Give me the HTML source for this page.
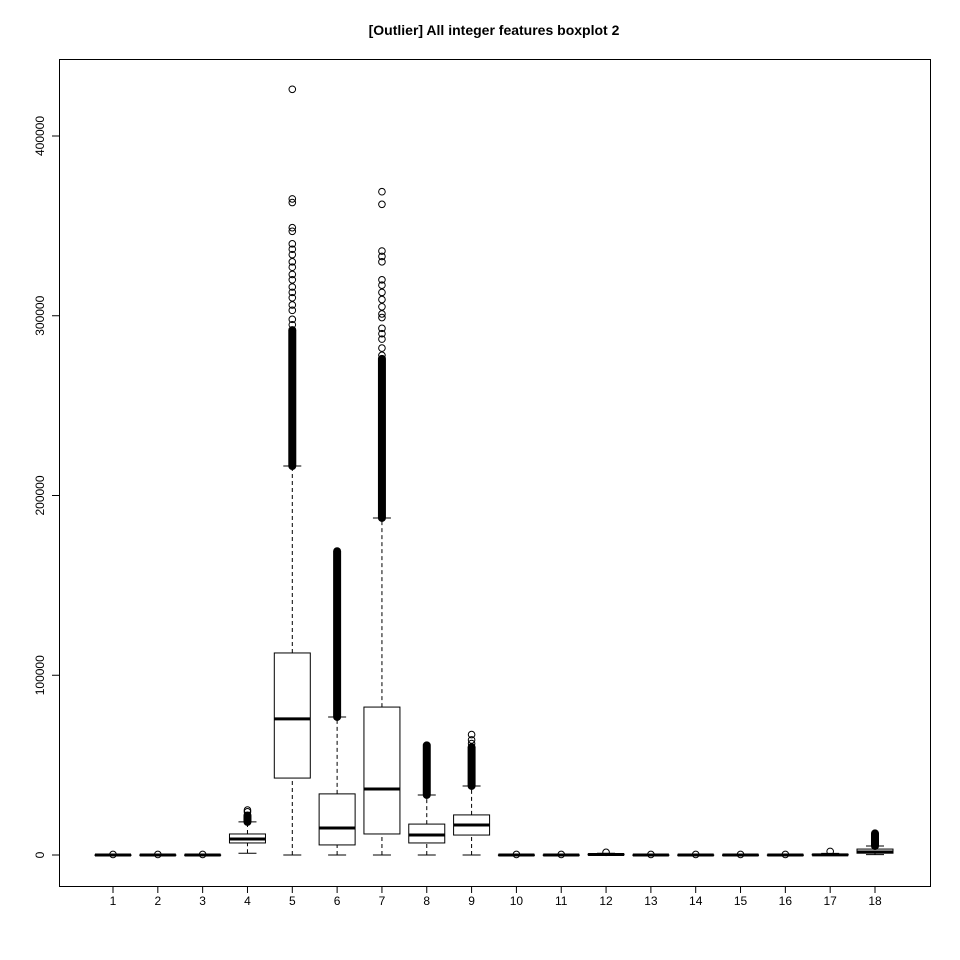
<!DOCTYPE html>
<html><head><meta charset="utf-8"><style>
html,body{margin:0;padding:0;background:#fff}
svg{display:block;font-family:"Liberation Sans",sans-serif}
</style></head><body>
<svg id="chart" width="960" height="960" viewBox="0 0 960 960">
<rect width="960" height="960" fill="#fff"/>
<text x="494" y="35" text-anchor="middle" font-size="14" font-weight="bold">[Outlier] All integer features boxplot 2</text>
<rect x="59.5" y="59.5" width="871" height="827" fill="none" stroke="#000"/>
<g id="g"></g>
</svg>
<script>
const categories = ["1","2","3","4","5","6","7","8","9","10","11","12","13","14","15","16","17","18"];
const whiskerLow = [0,0,0,1000,0,0,0,0,0,0,0,0,0,0,0,0,0,200];
const q1Values   = [0,0,0,6700,42800,5600,11700,6700,11100,0,0,100,0,0,0,0,0,1000];
const medianValues=[0,0,0,8900,75700,15000,36700,11100,16700,0,0,300,0,0,0,0,100,1700];
const q3Values   = [50,50,50,11700,112400,34000,82300,17200,22300,50,50,500,50,50,50,50,400,3300];
const whiskerHigh= [100,100,100,18400,216400,76800,187500,33400,38400,100,100,1000,100,100,100,100,900,5000];
const denseTop   = [0,0,0,22000,292000,169000,276000,61000,60000,0,0,0,0,0,0,0,0,12000];
const outliers = [[300],[300],[300],[24000,25000],
 [426000,365000,363000,349000,347000,340000,337000,334000,330000,327000,323000,320000,316000,313000,310000,306000,303000,298000,295000],
 [],
 [369000,362000,336000,333000,330000,320000,317000,313000,309000,305000,301000,299000,293000,290000,287000,282000,278000],
 [],[62000,64000,67000],[300],[300],[1500],[300],[300],[300],[300],[2000],[]];
const yTicks = [0,100000,200000,300000,400000];
const yTickLabels = ["0","100000","200000","300000","400000"];

const NS="http://www.w3.org/2000/svg";
const g=document.getElementById('g');
const y=v=>855-v*(719/400000);
const x=i=>113+i*(762/17);
function el(tag,attrs,parent){const e=document.createElementNS(NS,tag);for(const k in attrs)e.setAttribute(k,attrs[k]);(parent||g).appendChild(e);return e;}

yTicks.forEach((t,i)=>{
  const yy=y(t);
  const l=el('line',{x1:59.5,x2:52,y1:yy,y2:yy,stroke:'#000'});
  
  
  const tx=el('text',{x:44,y:yy,'text-anchor':'middle','font-size':12,transform:`rotate(-90 44 ${yy})`});
  tx.textContent=yTickLabels[i];
  
  
});
const ya=el('line',{x1:59.5,x2:59.5,y1:y(0),y2:y(400000),stroke:'#000'});



categories.forEach((c,i)=>{
  const cx=x(i);
  const tk=el('line',{x1:cx,x2:cx,y1:886.5,y2:893,stroke:'#000'});
  
  
  const tl=el('text',{x:cx,y:896+9,'text-anchor':'middle','font-size':12});
  tl.textContent=c;
  
  

  const grp=el('g',{});
  
  
  const hw=18, cw=9;
  el('line',{x1:cx,x2:cx,y1:y(whiskerLow[i]),y2:y(q1Values[i]),stroke:'#000','stroke-dasharray':'4,3'},grp);
  el('line',{x1:cx,x2:cx,y1:y(q3Values[i]),y2:y(whiskerHigh[i]),stroke:'#000','stroke-dasharray':'4,3'},grp);
  el('line',{x1:cx-cw,x2:cx+cw,y1:y(whiskerLow[i]),y2:y(whiskerLow[i]),stroke:'#000'},grp);
  el('line',{x1:cx-cw,x2:cx+cw,y1:y(whiskerHigh[i]),y2:y(whiskerHigh[i]),stroke:'#000'},grp);
  el('rect',{x:cx-hw,y:y(q3Values[i]),width:hw*2,height:Math.max(0.5,y(q1Values[i])-y(q3Values[i])),fill:'#fff',stroke:'#000'},grp);
  el('line',{x1:cx-hw,x2:cx+hw,y1:y(medianValues[i]),y2:y(medianValues[i]),stroke:'#000','stroke-width':3},grp);
  if(denseTop[i]>0){
    const d=el('line',{x1:cx,x2:cx,y1:y(whiskerHigh[i]),y2:y(denseTop[i]),stroke:'#000','stroke-width':8,'stroke-linecap':'round'},grp);
    
    
  }
  outliers[i].forEach(v=>{
    const p=el('circle',{cx:cx,cy:y(v),r:3.3,fill:'none',stroke:'#000','stroke-width':1},grp);
    
    
  });
});
</script>
</body></html>
